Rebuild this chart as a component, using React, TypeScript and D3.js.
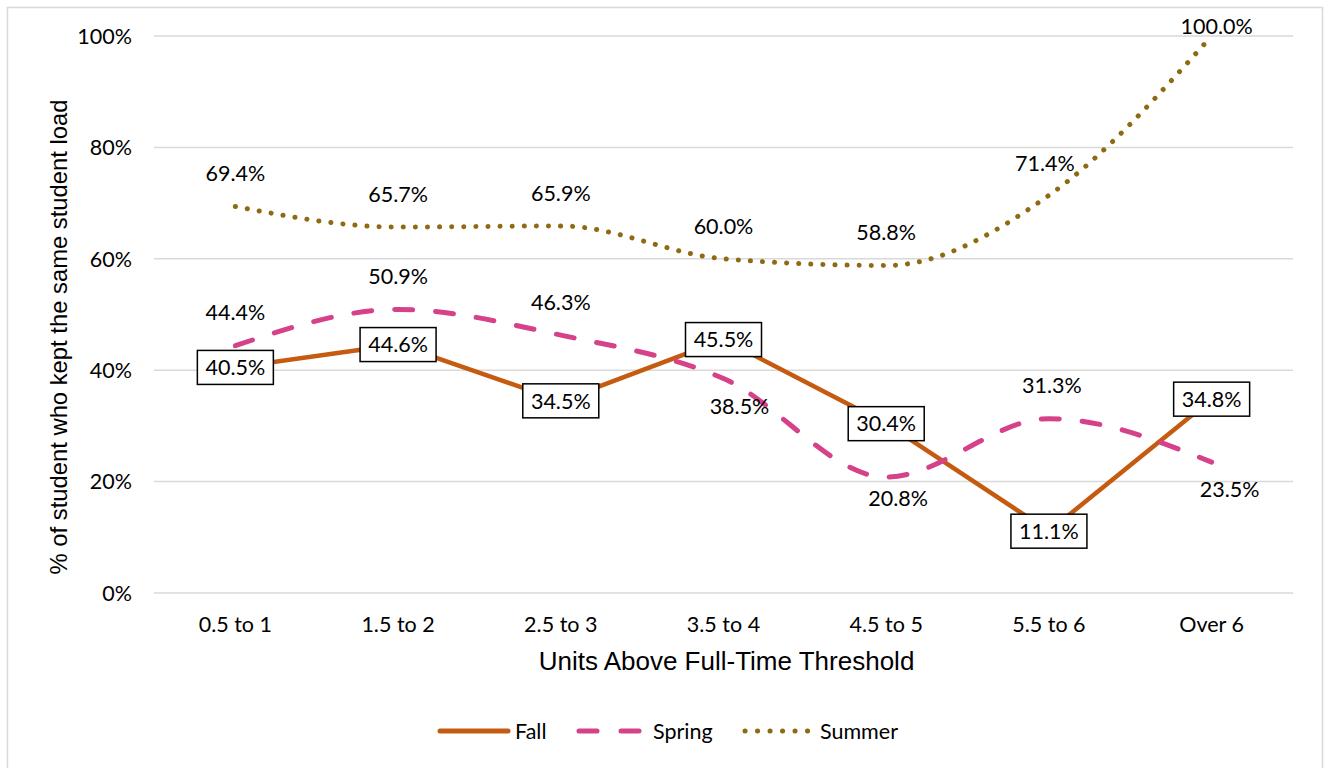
import * as d3 from "d3";

const categories = ["0.5 to 1", "1.5 to 2", "2.5 to 3", "3.5 to 4", "4.5 to 5", "5.5 to 6", "Over 6"];
const fallValues = [40.5, 44.6, 34.5, 45.5, 30.4, 11.1, 34.8];
const springValues = [44.4, 50.9, 46.3, 38.5, 20.8, 31.3, 23.5];
const summerValues = [69.4, 65.7, 65.9, 60.0, 58.8, 71.4, 100.0];
const yTicks = [0, 20, 40, 60, 80, 100];

const WIDTH = 1331;
const HEIGHT = 768;
const PLOT = { left: 154, right: 1293, top: 36, bottom: 593 };

const FALL = "#C55A11";
const SPRING = "#D6428A";
const SUMMER = "#8E6B12";
const LABEL_FONT = "Lato, 'Open Sans', sans-serif";
const TITLE_FONT = "'Liberation Sans', Arial, sans-serif";
const FS = 21.5;

// label offsets (dx, dy) relative to the point, like Excel's manual placement
const springLabelOffset: [number, number][] = [
  [0, -33], [0, -33], [0, -33], [16, 28], [12, 21], [3, -33], [18, 27],
];
const summerLabelOffset: [number, number][] = [
  [0, -33], [0, -33], [0, -33], [0, -33], [0, -33], [-4, -32], [5, -10],
];

export default function App() {
  const xScale = d3
    .scalePoint<string>()
    .domain(categories)
    .range([PLOT.left, PLOT.right])
    .padding(0.5);
  const yScale = d3.scaleLinear().domain([0, 100]).range([PLOT.bottom, PLOT.top]);

  const straight = d3
    .line<number>()
    .x((_, i) => xScale(categories[i]) as number)
    .y((d) => yScale(d));
  const smooth = d3
    .line<number>()
    .x((_, i) => xScale(categories[i]) as number)
    .y((d) => yScale(d))
    .curve(d3.curveMonotoneX);

  const fmt = (v: number) => v.toFixed(1) + "%";

  return (
    <div style={{ position: "fixed", left: 0, top: 0 }}>
      <svg width={WIDTH} height={HEIGHT} style={{ display: "block", background: "#fff" }}>
        <rect x={7.5} y={7.5} width={1315} height={770} fill="#fff" stroke="#D9D9D9" strokeWidth={1.5} />

        {/* gridlines + y ticks */}
        {yTicks.map((t) => (
          <g key={t}>
            <line
              x1={PLOT.left}
              x2={PLOT.right}
              y1={yScale(t)}
              y2={yScale(t)}
              stroke="#D9D9D9"
              strokeWidth={1.5}
            />
            <text
              x={132}
              y={yScale(t)}
              dy="0.36em"
              textAnchor="end"
              fontFamily={LABEL_FONT}
              fontSize={FS}
              fill="#000"
            >
              {t}%
            </text>
          </g>
        ))}

        {/* x tick labels */}
        {categories.map((c) => (
          <text
            key={c}
            x={xScale(c)}
            y={624}
            dy="0.36em"
            textAnchor="middle"
            fontFamily={LABEL_FONT}
            fontSize={FS}
            fill="#000"
          >
            {c}
          </text>
        ))}

        {/* axis titles */}
        <text
          x={(PLOT.left + PLOT.right) / 2 + 3}
          y={661}
          dy="0.36em"
          textAnchor="middle"
          fontFamily={TITLE_FONT}
          fontSize={26}
          fill="#000"
        >
          Units Above Full-Time Threshold
        </text>
        <text
          transform={`translate(58,337) rotate(-90)`}
          dy="0.36em"
          textAnchor="middle"
          fontFamily={TITLE_FONT}
          fontSize={23.8}
          fill="#000"
        >
          % of student who kept the same student load
        </text>

        {/* series */}
        <path d={straight(fallValues) || ""} fill="none" stroke={FALL} strokeWidth={4.5} strokeLinejoin="round" />
        <path
          d={smooth(springValues) || ""}
          fill="none"
          stroke={SPRING}
          strokeWidth={5}
          strokeDasharray="18 23"
          strokeLinecap="round"
        />
        <path
          d={smooth(summerValues) || ""}
          fill="none"
          stroke={SUMMER}
          strokeWidth={5}
          strokeDasharray="0.1 12"
          strokeLinecap="round"
        />

        {/* spring labels */}
        {springValues.map((v, i) => (
          <text
            key={"s" + i}
            x={(xScale(categories[i]) as number) + springLabelOffset[i][0]}
            y={yScale(v) + springLabelOffset[i][1]}
            dy="0.36em"
            textAnchor="middle"
            fontFamily={LABEL_FONT}
            fontSize={FS}
            fill="#000"
          >
            {fmt(v)}
          </text>
        ))}

        {/* summer labels */}
        {summerValues.map((v, i) => (
          <text
            key={"u" + i}
            x={(xScale(categories[i]) as number) + summerLabelOffset[i][0]}
            y={yScale(v) + summerLabelOffset[i][1]}
            dy="0.36em"
            textAnchor="middle"
            fontFamily={LABEL_FONT}
            fontSize={FS}
            fill="#000"
          >
            {fmt(v)}
          </text>
        ))}

        {/* fall labels (boxed) */}
        {fallValues.map((v, i) => {
          const cx = xScale(categories[i]) as number;
          const cy = yScale(v);
          return (
            <g key={"f" + i}>
              <rect x={cx - 38} y={cy - 17} width={76} height={34} fill="#fff" stroke="#000" strokeWidth={1.5} />
              <text
                x={cx}
                y={cy}
                dy="0.36em"
                textAnchor="middle"
                fontFamily={LABEL_FONT}
                fontSize={FS}
                fill="#000"
              >
                {fmt(v)}
              </text>
            </g>
          );
        })}

        {/* legend */}
        <g fontFamily={LABEL_FONT} fontSize={FS} fill="#000">
          <line x1={440} x2={508} y1={731} y2={731} stroke={FALL} strokeWidth={5} strokeLinecap="round" />
          <text x={515} y={731} dy="0.36em">Fall</text>
          <line
            x1={579}
            x2={641}
            y1={731}
            y2={731}
            stroke={SPRING}
            strokeWidth={5}
            strokeLinecap="round"
            strokeDasharray="18 24"
          />
          <text x={653} y={731} dy="0.36em">Spring</text>
          <line
            x1={745}
            x2={808}
            y1={731}
            y2={731}
            stroke={SUMMER}
            strokeWidth={5}
            strokeLinecap="round"
            strokeDasharray="0.1 12.4"
          />
          <text x={820} y={731} dy="0.36em">Summer</text>
        </g>
      </svg>
    </div>
  );
}
